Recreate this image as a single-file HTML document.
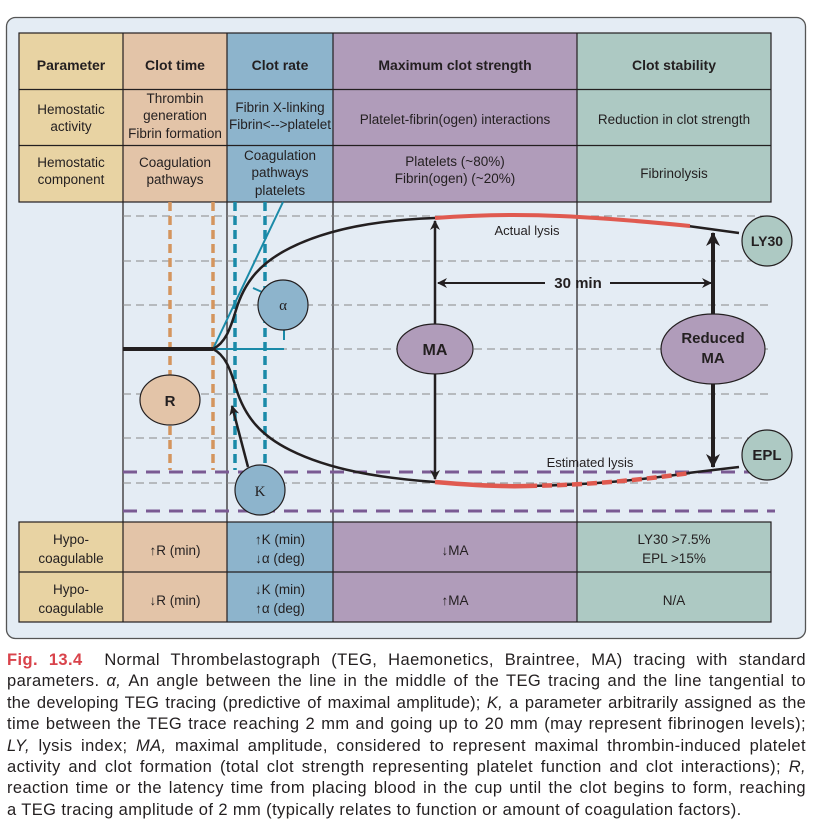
<!DOCTYPE html>
<html><head><meta charset="utf-8"><style>
body{margin:0;background:#fff;width:820px;height:838px;overflow:hidden;font-family:"Liberation Sans",sans-serif;}
svg{position:absolute;left:0;top:0}
.cap{position:absolute;left:7px;width:799px;font-size:16.5px;letter-spacing:0.4px;color:#231f20;line-height:21.4px;top:650px}
.cap div{text-align:justify;text-align-last:justify;white-space:nowrap;height:21.4px}
.cap div.l{text-align-last:left}
.cap div.t{letter-spacing:0.2px}
.cap b{color:#d9434b;font-weight:bold}
</style></head><body>
<svg width="820" height="838" viewBox="0 0 820 838" font-family="Liberation Sans, sans-serif" fill="#231f20">
<defs>
<marker id="ah" markerWidth="10" markerHeight="10" refX="9" refY="5" orient="auto" markerUnits="userSpaceOnUse"><path d="M0,0 L10,5 L0,10 L3,5 Z" fill="#231f20"/></marker>
<marker id="ahb" markerWidth="14" markerHeight="14" refX="13" refY="7" orient="auto" markerUnits="userSpaceOnUse"><path d="M0,0 L14,7 L0,14 L4,7 Z" fill="#231f20"/></marker>
</defs>
<rect x="6.5" y="17.5" width="799" height="621" rx="9" fill="#e4ecf4" stroke="#555" stroke-width="1.3"/>
<rect x="19" y="33" width="104" height="169" fill="#e8d3a3"/>
<rect x="123" y="33" width="104" height="169" fill="#e3c4a8"/>
<rect x="227" y="33" width="106" height="169" fill="#8db4cc"/>
<rect x="333" y="33" width="244" height="169" fill="#b09cba"/>
<rect x="577" y="33" width="194" height="169" fill="#adc9c3"/>
<g stroke="#231f20" stroke-width="1.2" fill="none">
<rect x="19" y="33" width="752" height="169"/>
<line x1="19" y1="89.5" x2="771" y2="89.5"/><line x1="19" y1="145.5" x2="771" y2="145.5"/>
<line x1="123" y1="33" x2="123" y2="622"/><line x1="227" y1="33" x2="227" y2="622"/>
<line x1="333" y1="33" x2="333" y2="622"/><line x1="577" y1="33" x2="577" y2="622"/>
</g>
<g font-size="14" text-anchor="middle" font-weight="bold">
<text x="71" y="70">Parameter</text><text x="175" y="70">Clot time</text><text x="280" y="70">Clot rate</text>
<text x="455" y="70">Maximum clot strength</text><text x="674" y="70">Clot stability</text>
</g>
<g font-size="13.5" text-anchor="middle">
<text x="71" y="114">Hemostatic</text><text x="71" y="131">activity</text>
<text x="175" y="103">Thrombin</text><text x="175" y="120">generation</text><text x="175" y="138">Fibrin formation</text>
<text x="280" y="112">Fibrin X-linking</text><text x="280" y="129">Fibrin&lt;--&gt;platelet</text>
<text x="455" y="124">Platelet-fibrin(ogen) interactions</text>
<text x="674" y="124">Reduction in clot strength</text>
<text x="71" y="167">Hemostatic</text><text x="71" y="184">component</text>
<text x="175" y="167">Coagulation</text><text x="175" y="184">pathways</text>
<text x="280" y="160">Coagulation</text><text x="280" y="177">pathways</text><text x="280" y="195">platelets</text>
<text x="455" y="166">Platelets (~80%)</text><text x="455" y="183">Fibrin(ogen) (~20%)</text>
<text x="674" y="178">Fibrinolysis</text>
</g>
<g stroke="#888" stroke-width="1" stroke-dasharray="8,5">
<line x1="123" y1="216" x2="771" y2="216"/><line x1="123" y1="261" x2="771" y2="261"/>
<line x1="123" y1="305" x2="771" y2="305"/><line x1="123" y1="349" x2="771" y2="349"/>
<line x1="123" y1="394" x2="771" y2="394"/><line x1="123" y1="438" x2="771" y2="438"/>
<line x1="123" y1="483" x2="771" y2="483"/>
</g>
<g stroke="#7a5a93" stroke-width="3" stroke-dasharray="14,9">
<line x1="123" y1="472" x2="775" y2="472"/><line x1="123" y1="511" x2="775" y2="511"/>
</g>
<g stroke="#d4955e" stroke-width="3.5" stroke-dasharray="9,5">
<line x1="170" y1="202" x2="170" y2="470"/><line x1="213" y1="202" x2="213" y2="470"/>
</g>
<g stroke="#1a8aa8" stroke-width="3.5" stroke-dasharray="9,5">
<line x1="235" y1="202" x2="235" y2="470"/><line x1="265" y1="202" x2="265" y2="470"/>
</g>
<g stroke="#1a8aa8" stroke-width="2" fill="none">
<line x1="213" y1="349" x2="283" y2="202"/><line x1="213" y1="349" x2="284" y2="349"/>
<line x1="253" y1="288" x2="262" y2="292"/><line x1="284" y1="330" x2="284" y2="340"/>
</g>
<line x1="123" y1="349" x2="213" y2="349" stroke="#231f20" stroke-width="4"/>
<g fill="none" stroke="#231f20" stroke-width="2.5">
<path d="M213,349 C225,343 230,330 236,310 C245,280 262,262 290,248 C330,228 380,220 435,218"/>
<path d="M213,349 C225,355 230,368 236,388 C245,418 262,436 290,450 C330,470 380,478 435,482"/>
<path d="M688,226 L739,233"/>
<path d="M688,473 L739,467"/>
</g>
<path d="M435,218 C500,213 560,213 690,226" fill="none" stroke="#e05a50" stroke-width="4"/>
<path d="M435,482 C470,485 500,487 527,486" fill="none" stroke="#e05a50" stroke-width="4.5"/>
<path d="M527,486 C590,485 640,480 690,473" fill="none" stroke="#231f20" stroke-width="2.5"/>
<path d="M527,486 C590,485 640,480 690,473" fill="none" stroke="#e05a50" stroke-width="4.5" stroke-dasharray="10,5"/>
<g stroke="#231f20" stroke-width="2.5" fill="none">
<line x1="435" y1="349" x2="435" y2="221" marker-end="url(#ah)"/>
<line x1="435" y1="349" x2="435" y2="479" marker-end="url(#ah)"/>
<line x1="248" y1="467" x2="232" y2="406" marker-end="url(#ah)"/>
</g>
<g stroke="#231f20" stroke-width="2" fill="none">
<line x1="545" y1="283" x2="438" y2="283" marker-end="url(#ah)"/>
<line x1="610" y1="283" x2="711" y2="283" marker-end="url(#ah)"/>
</g>
<g stroke="#231f20" stroke-width="4" fill="none">
<line x1="713" y1="315" x2="713" y2="233" marker-end="url(#ahb)"/>
<line x1="713" y1="384" x2="713" y2="467" marker-end="url(#ahb)"/>
</g>
<text x="578" y="288" font-size="15" font-weight="bold" text-anchor="middle">30 min</text>
<text x="527" y="235" font-size="13" text-anchor="middle">Actual lysis</text>
<text x="590" y="467" font-size="13" text-anchor="middle">Estimated lysis</text>
<g stroke="#231f20" stroke-width="1.2">
<ellipse cx="170" cy="400" rx="30" ry="25" fill="#e3c4a8"/>
<circle cx="283" cy="305" r="25" fill="#8db4cc"/>
<circle cx="260" cy="490" r="25" fill="#8db4cc"/>
<ellipse cx="435" cy="349" rx="38" ry="25" fill="#b09cba"/>
<ellipse cx="713" cy="349" rx="52" ry="35" fill="#b09cba"/>
<circle cx="767" cy="241" r="25" fill="#adc9c3"/>
<circle cx="767" cy="455" r="25" fill="#adc9c3"/>
</g>
<text x="170" y="406" font-size="15" font-weight="bold" text-anchor="middle">R</text>
<text x="283" y="310" font-size="15" font-family="Liberation Serif, serif" text-anchor="middle">α</text>
<text x="260" y="496" font-size="15" font-family="Liberation Serif, serif" text-anchor="middle">K</text>
<text x="435" y="355" font-size="16" font-weight="bold" text-anchor="middle">MA</text>
<text x="713" y="343" font-size="15" font-weight="bold" text-anchor="middle">Reduced</text>
<text x="713" y="363" font-size="15" font-weight="bold" text-anchor="middle">MA</text>
<text x="767" y="246" font-size="14" font-weight="bold" text-anchor="middle">LY30</text>
<text x="767" y="460" font-size="15" font-weight="bold" text-anchor="middle">EPL</text>
<rect x="19" y="522" width="104" height="100" fill="#e8d3a3"/>
<rect x="123" y="522" width="104" height="100" fill="#e3c4a8"/>
<rect x="227" y="522" width="106" height="100" fill="#8db4cc"/>
<rect x="333" y="522" width="244" height="100" fill="#b09cba"/>
<rect x="577" y="522" width="194" height="100" fill="#adc9c3"/>
<g stroke="#231f20" stroke-width="1.2" fill="none">
<rect x="19" y="522" width="752" height="100"/>
<line x1="19" y1="572" x2="771" y2="572"/>
<line x1="123" y1="522" x2="123" y2="622"/><line x1="227" y1="522" x2="227" y2="622"/>
<line x1="333" y1="522" x2="333" y2="622"/><line x1="577" y1="522" x2="577" y2="622"/>
</g>
<g font-size="13.5" text-anchor="middle" font-family="Liberation Sans Narrow, Liberation Sans, sans-serif">
<text x="71" y="544">Hypo-</text><text x="71" y="563">coagulable</text>
<text x="175" y="555">↑R (min)</text>
<text x="280" y="544">↑K (min)</text><text x="280" y="563">↓α (deg)</text>
<text x="455" y="555">↓MA</text>
<text x="674" y="544">LY30 &gt;7.5%</text><text x="674" y="563">EPL &gt;15%</text>
<text x="71" y="594">Hypo-</text><text x="71" y="613">coagulable</text>
<text x="175" y="605">↓R (min)</text>
<text x="280" y="594">↓K (min)</text><text x="280" y="613">↑α (deg)</text>
<text x="455" y="605">↑MA</text>
<text x="674" y="605">N/A</text>
</g>
</svg>
<div class="cap">
<div><b>Fig. 13.4</b>&nbsp; Normal Thrombelastograph (TEG, Haemonetics, Braintree, MA) tracing with standard</div>
<div>parameters. <i>α,</i> An angle between the line in the middle of the TEG tracing and the line tangential to</div>
<div class="t">the developing TEG tracing (predictive of maximal amplitude); <i>K,</i> a parameter arbitrarily assigned as the</div>
<div>time between the TEG trace reaching 2 mm and going up to 20 mm (may represent fibrinogen levels);</div>
<div><i>LY,</i> lysis index; <i>MA,</i> maximal amplitude, considered to represent maximal thrombin-induced platelet</div>
<div>activity and clot formation (total clot strength representing platelet function and clot interactions); <i>R,</i></div>
<div>reaction time or the latency time from placing blood in the cup until the clot begins to form, reaching</div>
<div class="l">a TEG tracing amplitude of 2 mm (typically relates to function or amount of coagulation factors).</div>
</div>
</body></html>
